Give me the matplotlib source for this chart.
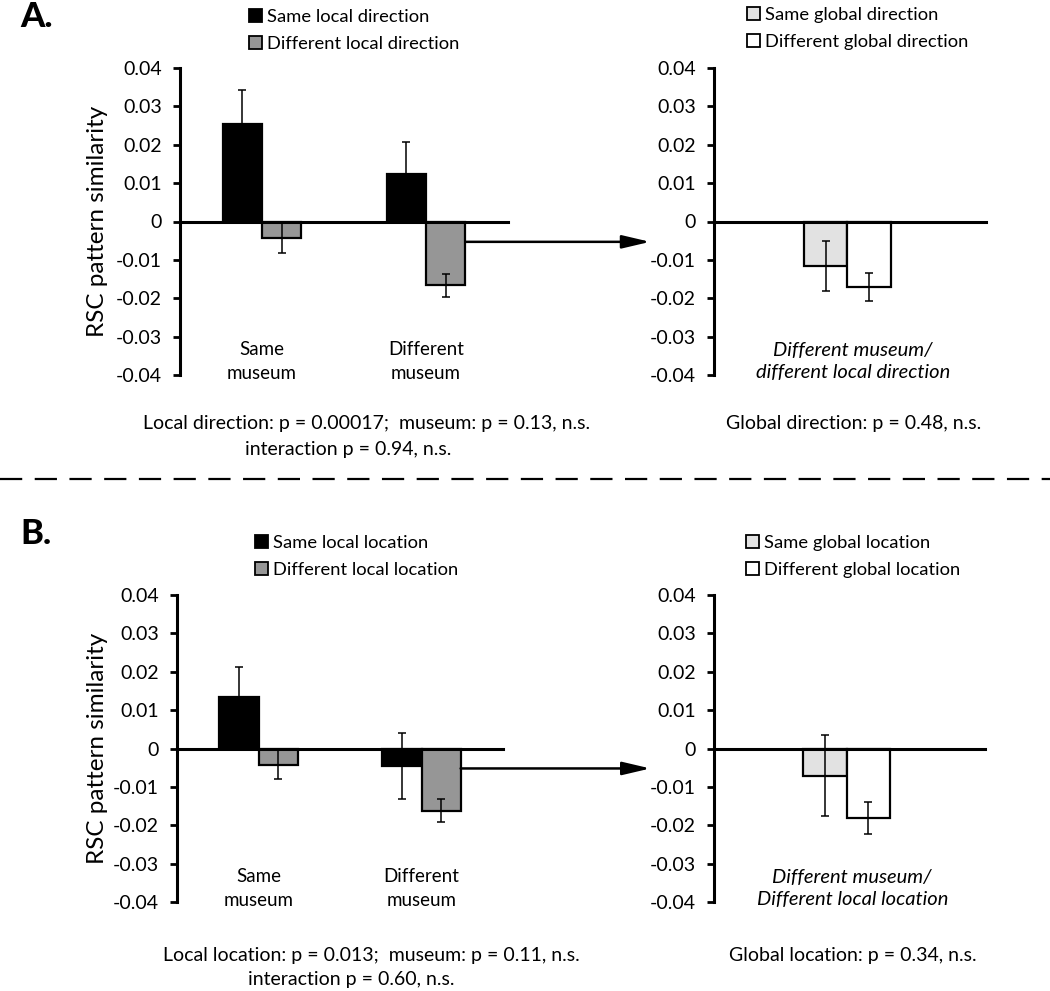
import matplotlib
matplotlib.use("Agg")
import matplotlib.pyplot as plt
from matplotlib.patches import Patch
from matplotlib.lines import Line2D
import numpy as np

plt.rcParams['font.family'] = ['Lato', 'DejaVu Sans']
plt.rcParams['lines.scale_dashes'] = False

# ---------------- data ----------------
categories_local = ["Same\nmuseum", "Different\nmuseum"]
category_global_A = "Different museum/\ndifferent local direction"
category_global_B = "Different museum/\nDifferent local location"

# Panel A (direction)
A_same_local = [0.0253, 0.0124]
A_same_local_err = [0.0089, 0.0083]
A_diff_local = [-0.0042, -0.0166]
A_diff_local_err = [0.0040, 0.0030]
A_same_global = [-0.0115]
A_same_global_err = [0.0065]
A_diff_global = [-0.0171]
A_diff_global_err = [0.0037]

# Panel B (location)
B_same_local = [0.0135, -0.0045]
B_same_local_err = [0.0077, 0.0086]
B_diff_local = [-0.0042, -0.0162]
B_diff_local_err = [0.0038, 0.0030]
B_same_global = [-0.0071]
B_same_global_err = [0.0106]
B_diff_global = [-0.0181]
B_diff_global_err = [0.0041]

yticks = [0.04, 0.03, 0.02, 0.01, 0, -0.01, -0.02, -0.03, -0.04]
ytick_labels = ["0.04", "0.03", "0.02", "0.01", "0", "-0.01", "-0.02", "-0.03", "-0.04"]

legend_A_local = ["Same local direction", "Different local direction"]
legend_A_global = ["Same global direction", "Different global direction"]
legend_B_local = ["Same local location", "Different local location"]
legend_B_global = ["Same global location", "Different global location"]

stats_A_left = ["Local direction: p = 0.00017;  museum: p = 0.13, n.s.", "interaction p = 0.94, n.s."]
stats_A_right = "Global direction: p = 0.48, n.s."
stats_B_left = ["Local location: p = 0.013;  museum: p = 0.11, n.s.", "interaction p = 0.60, n.s."]
stats_B_right = "Global location: p = 0.34, n.s."

# ---------------- style ----------------
C_BLACK = "#000000"
C_GRAY = "#969696"
C_LIGHT = "#e2e2e2"
C_WHITE = "#ffffff"
FS_TICK = 14
FS_LEG = 13.2
FS_CAT = 13.5
FS_STAT = 14
FS_ITAL = 14.5
FS_YLAB = 17.5

W, H = 1050, 991
fig = plt.figure(figsize=(W / 100, H / 100), dpi=100)
fig.patch.set_facecolor('white')


def fx(px):
    return px / W


def fy(py):
    return 1 - py / H


def make_axes(left, right, top, bottom):
    ax = fig.add_axes([fx(left), fy(bottom), fx(right - left), (bottom - top) / H])
    ax.set_facecolor('none')
    ax.set_ylim(-0.04, 0.04)
    ax.set_yticks(yticks)
    ax.set_yticklabels(ytick_labels, fontsize=FS_TICK)
    ax.tick_params(axis='y', direction='out', length=5, width=2, pad=8)
    ax.set_xticks([])
    for s in ['top', 'right']:
        ax.spines[s].set_visible(False)
    ax.spines['left'].set_linewidth(2.2)
    ax.spines['bottom'].set_position(('data', 0))
    ax.spines['bottom'].set_linewidth(2.2)
    return ax


def bars(ax, x, vals, errs, color, width):
    ax.bar(x, vals, width=width, color=color, edgecolor='black', linewidth=1.6, zorder=2)
    ax.errorbar(x, vals, yerr=errs, fmt='none', ecolor='black', elinewidth=1.1,
                capsize=3, capthick=1.1, zorder=3)


def legend(labels, colors, x_px, y_px):
    handles = [Patch(facecolor=c, edgecolor='black', linewidth=1.3) for c in colors]
    fig.legend(handles, labels, loc='upper left', bbox_to_anchor=(fx(x_px), fy(y_px)),
               frameon=False, fontsize=FS_LEG, handlelength=0.7, handleheight=0.7,
               handletextpad=0.3, labelspacing=0.58, borderpad=0, borderaxespad=0)


def panel(top, bottom, l0, l1, r0, r1,
          same_l, same_l_err, diff_l, diff_l_err,
          same_g, same_g_err, diff_g, diff_g_err, arrow_y, glabel):
    axL = make_axes(l0, l1, top, bottom)
    axL.set_xlim(0, 2)
    pos = np.arange(len(categories_local)) + 0.5
    bw = 0.24
    bars(axL, pos - bw / 2, same_l, same_l_err, C_BLACK, bw)
    bars(axL, pos + bw / 2, diff_l, diff_l_err, C_GRAY, bw)
    for p, lab in zip(pos, categories_local):
        axL.text(p, -0.0365, lab, ha='center', va='center', fontsize=FS_CAT,
                 linespacing=1.5)

    axR = make_axes(r0, r1, top, bottom)
    axR.set_xlim(0, 1)
    posg = np.array([0.49])
    bwg = 0.16
    bars(axR, posg - bwg / 2, same_g, same_g_err, C_LIGHT, bwg)
    bars(axR, posg + bwg / 2, diff_g, diff_g_err, C_WHITE, bwg)
    axR.text(0.51, -0.0365, glabel, ha='center', va='center', fontsize=FS_ITAL,
             style='italic', linespacing=1.4)

    axL.annotate("", xy=(-0.235, arrow_y), xycoords=axR.get_yaxis_transform(),
                 xytext=(pos[-1] + bw, arrow_y), textcoords='data',
                 arrowprops=dict(arrowstyle='-|>,head_length=1.7,head_width=0.4',
                                 color='black', lw=1.8, shrinkA=0, shrinkB=0),
                 annotation_clip=False)
    fig.text(fx(97), fy((top + bottom) / 2), "RSC pattern similarity", rotation=90,
             ha='center', va='center', fontsize=FS_YLAB)
    return axL, axR


# ---- Panel A ----
panel(68, 375, 180, 508, 714, 986,
      A_same_local, A_same_local_err, A_diff_local, A_diff_local_err,
      A_same_global, A_same_global_err, A_diff_global, A_diff_global_err,
      -0.0053, category_global_A)
legend(legend_A_local, [C_BLACK, C_GRAY], 249, 9)
legend(legend_A_global, [C_LIGHT, C_WHITE], 747, 7)
fig.text(fx(367), fy(423), stats_A_left[0], ha='center', va='center', fontsize=FS_STAT)
fig.text(fx(348), fy(450), stats_A_left[1], ha='center', va='center', fontsize=FS_STAT)
fig.text(fx(854), fy(423), stats_A_right, ha='center', va='center', fontsize=FS_STAT)
fig.text(fx(20), fy(27), "A.", ha='left', va='baseline', fontsize=25, fontweight='black')

# ---- Panel B ----
panel(595, 902, 177, 503, 714, 985,
      B_same_local, B_same_local_err, B_diff_local, B_diff_local_err,
      B_same_global, B_same_global_err, B_diff_global, B_diff_global_err,
      -0.0052, category_global_B)
legend(legend_B_local, [C_BLACK, C_GRAY], 255, 535)
legend(legend_B_global, [C_LIGHT, C_WHITE], 746, 535)
fig.text(fx(371), fy(955), stats_B_left[0], ha='center', va='center', fontsize=FS_STAT)
fig.text(fx(351), fy(980), stats_B_left[1], ha='center', va='center', fontsize=FS_STAT)
fig.text(fx(853), fy(955), stats_B_right, ha='center', va='center', fontsize=FS_STAT)
fig.text(fx(20), fy(544), "B.", ha='left', va='baseline', fontsize=25, fontweight='black')

# separator
fig.add_artist(Line2D([0, 1], [fy(479), fy(479)], transform=fig.transFigure,
                      color='black', lw=1.6, linestyle=(0, (16, 9))))

fig.savefig("out.png", dpi=100, facecolor='white')
